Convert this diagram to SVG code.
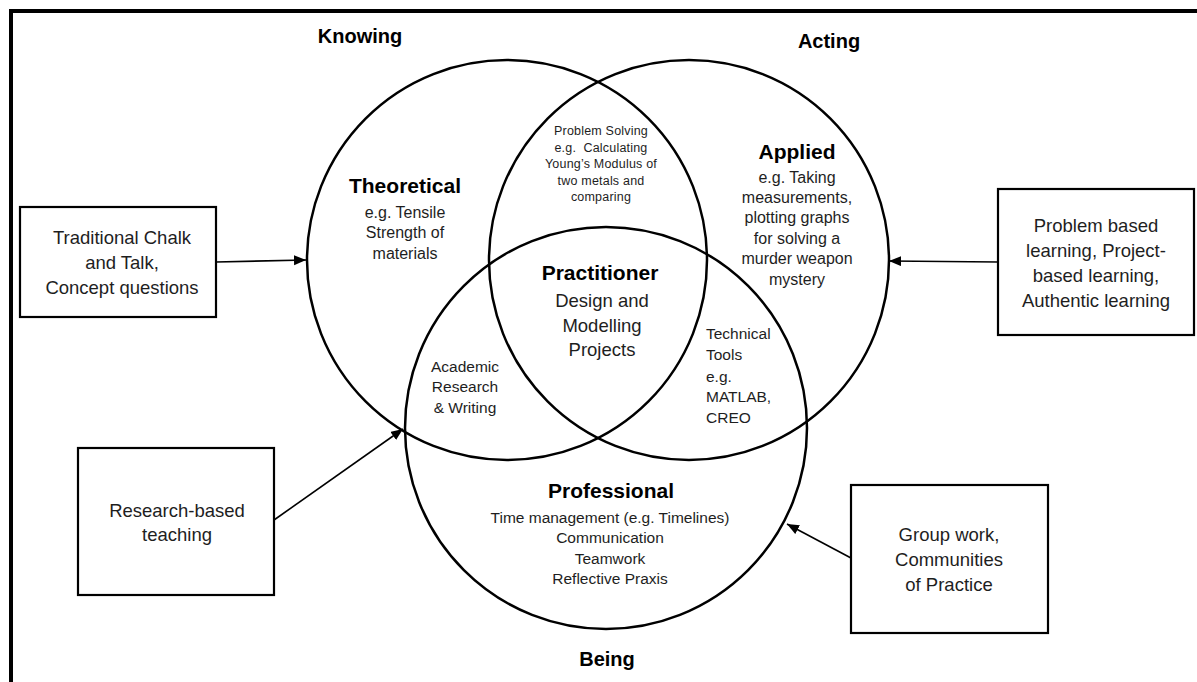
<svg xmlns="http://www.w3.org/2000/svg" width="1197" height="682" viewBox="0 0 1197 682">
  <defs>
    <marker id="arrow" markerUnits="userSpaceOnUse" markerWidth="13" markerHeight="11" refX="12" refY="5" orient="auto">
      <path d="M0,0 L12,5 L0,10 z" fill="#000"/>
    </marker>
    <style>
      .frame { fill: none; stroke: #000; stroke-width: 4; }
      .circle { fill: none; stroke: #000; stroke-width: 2.5; }
      .box { fill: #fff; stroke: #000; stroke-width: 2.2; }
      .conn { fill: none; stroke: #000; stroke-width: 1.6; marker-end: url(#arrow); }
      text { font-family: "Liberation Sans", Arial, sans-serif; fill: #1e1e1e; text-anchor: middle; }
      .dim { font-size: 20px; font-weight: bold; fill: #000; }
      .title { font-size: 21px; font-weight: bold; fill: #000; }
      .body { font-size: 16px; }
      .small { font-size: 12.5px; letter-spacing: 0.2px; }
      .mid { font-size: 15.5px; }
      .boxt { font-size: 18.5px; }
    </style>
  </defs>
  <rect width="1197" height="682" fill="#fff"/>
  <rect class="frame" x="11" y="11" width="1200" height="690"/>

  <g id="dimension-labels">
    <text class="dim" x="360" y="43">Knowing</text>
    <text class="dim" x="829" y="48">Acting</text>
    <text class="dim" x="607" y="666">Being</text>
  </g>

  <g id="circle-theoretical">
    <circle class="circle" cx="507" cy="260" r="200"/>
    <text class="title" x="405" y="193">Theoretical</text>
    <text class="body" x="405" y="218">e.g. Tensile</text>
    <text class="body" x="405" y="238">Strength of</text>
    <text class="body" x="405" y="259">materials</text>
  </g>

  <g id="circle-applied">
    <circle class="circle" cx="689" cy="260" r="200"/>
    <text class="title" x="797" y="159">Applied</text>
    <text class="body" x="797" y="183">e.g. Taking</text>
    <text class="body" x="797" y="203">measurements,</text>
    <text class="body" x="797" y="223">plotting graphs</text>
    <text class="body" x="797" y="244">for solving a</text>
    <text class="body" x="797" y="264">murder weapon</text>
    <text class="body" x="797" y="285">mystery</text>
  </g>

  <g id="circle-professional">
    <circle class="circle" cx="606" cy="428" r="201"/>
    <text class="title" x="611" y="498">Professional</text>
    <text class="mid" x="610" y="523">Time management (e.g. Timelines)</text>
    <text class="mid" x="610" y="543">Communication</text>
    <text class="mid" x="610" y="564">Teamwork</text>
    <text class="mid" x="610" y="584">Reflective Praxis</text>
  </g>

  <g id="overlap-problem-solving">
    <text class="small" x="601" y="135">Problem Solving</text>
    <text class="small" x="601" y="152">e.g.&#160; Calculating</text>
    <text class="small" x="601" y="168">Young’s Modulus of</text>
    <text class="small" x="601" y="185">two metals and</text>
    <text class="small" x="601" y="201">comparing</text>
  </g>

  <g id="overlap-practitioner">
    <text class="title" x="600" y="280">Practitioner</text>
    <text class="boxt" x="602" y="307">Design and</text>
    <text class="boxt" x="602" y="332">Modelling</text>
    <text class="boxt" x="602" y="356">Projects</text>
  </g>

  <g id="overlap-academic">
    <text class="mid" x="465" y="372">Academic</text>
    <text class="mid" x="465" y="392">Research</text>
    <text class="mid" x="465" y="413">&amp; Writing</text>
  </g>

  <g id="overlap-technical">
    <text class="mid" x="706" y="339" style="text-anchor:start">Technical</text>
    <text class="mid" x="706" y="360" style="text-anchor:start">Tools</text>
    <text class="mid" x="706" y="382" style="text-anchor:start">e.g.</text>
    <text class="mid" x="706" y="402" style="text-anchor:start">MATLAB,</text>
    <text class="mid" x="706" y="423" style="text-anchor:start">CREO</text>
  </g>

  <g id="box-chalk-talk">
    <rect class="box" x="20" y="207" width="196" height="110"/>
    <text class="boxt" x="122" y="244">Traditional Chalk</text>
    <text class="boxt" x="122" y="269">and Talk,</text>
    <text class="boxt" x="122" y="294">Concept questions</text>
  </g>

  <g id="box-problem-based">
    <rect class="box" x="998" y="189" width="196" height="146"/>
    <text class="boxt" x="1096" y="232">Problem based</text>
    <text class="boxt" x="1096" y="257">learning, Project-</text>
    <text class="boxt" x="1096" y="282">based learning,</text>
    <text class="boxt" x="1096" y="307">Authentic learning</text>
  </g>

  <g id="box-research-teaching">
    <rect class="box" x="78" y="448" width="196" height="147"/>
    <text class="boxt" x="177" y="517">Research-based</text>
    <text class="boxt" x="177" y="541">teaching</text>
  </g>

  <g id="box-group-work">
    <rect class="box" x="851" y="485" width="197" height="148"/>
    <text class="boxt" x="949" y="541">Group work,</text>
    <text class="boxt" x="949" y="566">Communities</text>
    <text class="boxt" x="949" y="591">of Practice</text>
  </g>

  <g id="connectors">
    <line class="conn" x1="216" y1="262" x2="306" y2="260"/>
    <line class="conn" x1="998" y1="262" x2="889" y2="261"/>
    <line class="conn" x1="274" y1="520" x2="403" y2="429"/>
    <line class="conn" x1="851" y1="558" x2="787" y2="524"/>
  </g>
</svg>
